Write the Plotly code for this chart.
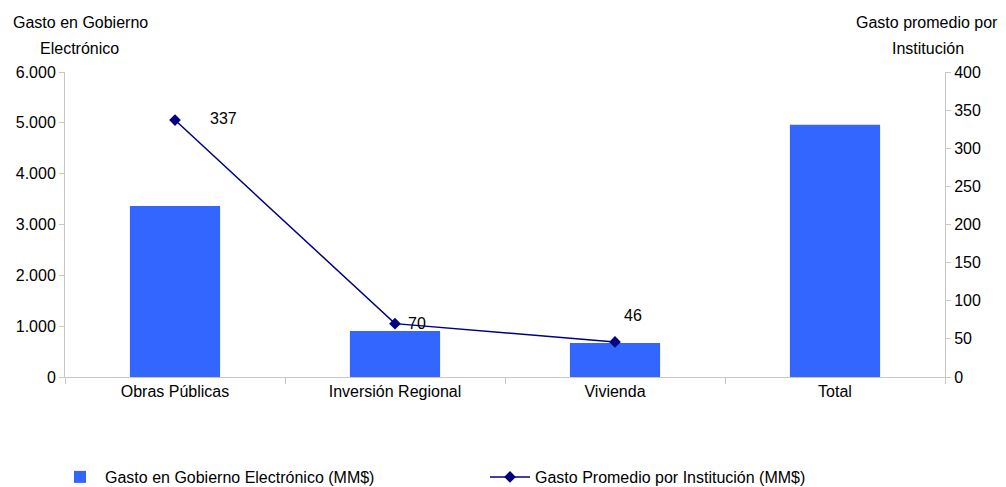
import plotly.graph_objects as go

categories = ["Obras Públicas", "Inversión Regional", "Vivienda", "Total"]
gasto_gobierno = [3365, 905, 670, 4960]
gasto_promedio_cats = ["Obras Públicas", "Inversión Regional", "Vivienda"]
gasto_promedio = [337, 70, 46]
left_ticks = [0, 1000, 2000, 3000, 4000, 5000, 6000]
right_ticks = [0, 50, 100, 150, 200, 250, 300, 350, 400]

FONT = "Liberation Sans, Arial, sans-serif"
AXIS_COLOR = "#c8c8c8"
FS = 16

# page body has an 8px margin, so the figure is drawn 8px in from the top-left
OFF = 8
W, H = 1006 - OFF, 487 - OFF
ML, MR, MT, MB = 65 - OFF, 61, 72 - OFF, 110
PW, PH = W - ML - MR, H - MT - MB

fig = go.Figure()
fig.add_trace(go.Bar(
    x=categories, y=gasto_gobierno,
    name="Gasto en Gobierno Electrónico (MM$)",
    marker=dict(color="#3366ff", line=dict(width=0)),
    width=0.41, yaxis="y", legend="legend",
))
fig.add_trace(go.Scatter(
    x=gasto_promedio_cats, y=gasto_promedio,
    name="Gasto Promedio por Institución (MM$)",
    mode="lines+markers",
    line=dict(color="#000080", width=1.5),
    marker=dict(symbol="diamond", size=9, color="#000080"),
    yaxis="y2", legend="legend2",
))

label_shifts = [(48, 2), (22, 0), (18, 26)]
for cat, val, (dx, dy) in zip(gasto_promedio_cats, gasto_promedio, label_shifts):
    fig.add_annotation(x=cat, y=val, xref="x", yref="y2", text=str(val),
                       showarrow=False, xshift=dx, yshift=dy,
                       font=dict(family=FONT, size=FS, color="#000000"))

# axis titles (two lines each), positions in page pixels
title_lines = [
    ("Gasto en Gobierno", 80, 22),
    ("Electrónico", 79, 48),
    ("Gasto promedio por", 927, 22),
    ("Institución", 928, 48),
]
for txt, px, py in title_lines:
    fx, fy = px - OFF, py - OFF
    fig.add_annotation(x=(fx - ML) / PW, y=(H - MB - fy) / PH, xref="paper", yref="paper",
                       xanchor="center", yanchor="middle", text=txt, showarrow=False,
                       font=dict(family=FONT, size=FS, color="#000000"))

legend_y = 1 - (477 - OFF) / H
fig.update_layout(
    width=W, height=H,
    margin=dict(l=ML, r=MR, t=MT, b=MB, autoexpand=False),
    plot_bgcolor="white", paper_bgcolor="white",
    separators=",.",
    font=dict(family=FONT, size=FS, color="#000000"),
    xaxis=dict(
        showline=True, linecolor=AXIS_COLOR, linewidth=1,
        ticks="outside", tickson="boundaries", tickcolor=AXIS_COLOR, ticklen=6,
        showgrid=False, range=[-0.5, 3.5], automargin=False,
    ),
    yaxis=dict(
        range=[0, 6000], tickvals=left_ticks, tickformat=",d",
        showline=True, linecolor=AXIS_COLOR, linewidth=1,
        ticks="outside", tickcolor=AXIS_COLOR, ticklen=5,
        showgrid=False, zeroline=False, automargin=False,
    ),
    yaxis2=dict(
        range=[0, 400], tickvals=right_ticks, overlaying="y", side="right",
        showline=True, linecolor=AXIS_COLOR, linewidth=1,
        ticks="outside", tickcolor=AXIS_COLOR, ticklen=5,
        showgrid=False, zeroline=False, automargin=False,
    ),
    legend=dict(orientation="h", x=(55 - OFF) / W, y=legend_y, xref="container", yref="container",
                xanchor="left", yanchor="middle",
                font=dict(family=FONT, size=FS), itemwidth=40),
    legend2=dict(orientation="h", x=(485 - OFF) / W, y=legend_y, xref="container", yref="container",
                 xanchor="left", yanchor="middle",
                 font=dict(family=FONT, size=FS), itemwidth=40),
    showlegend=True,
)

fig.write_html("out.html")
